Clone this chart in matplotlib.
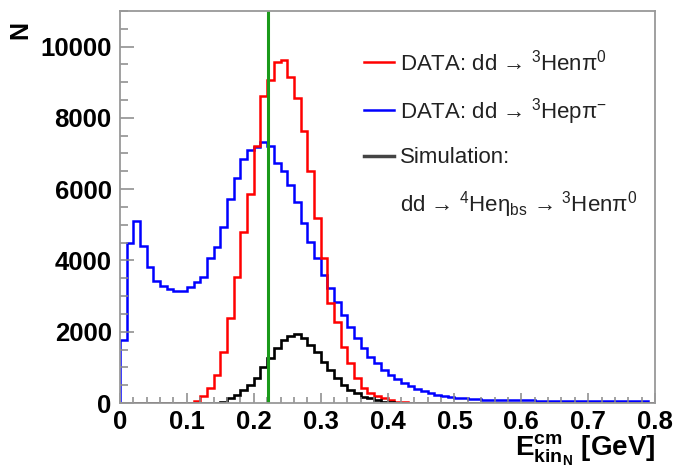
import numpy as np
import matplotlib
matplotlib.use("Agg")
import matplotlib.pyplot as plt
from matplotlib.lines import Line2D
from matplotlib.ticker import MultipleLocator

plt.rcParams["font.family"] = ["Liberation Sans", "DejaVu Sans"]
plt.rcParams["mathtext.fontset"] = "custom"
plt.rcParams["mathtext.rm"] = "Liberation Sans"
plt.rcParams["mathtext.it"] = "Liberation Sans:italic"
plt.rcParams["mathtext.bf"] = "Liberation Sans:bold"

# bins of 0.01 GeV from 0 to 0.8
bin_edges = np.round(np.arange(0, 0.81, 0.01), 2)

# DATA: dd -> 3He n pi0
red_counts = [0] * 10 + [
    10, 50, 210, 420, 800, 1440, 2390, 3550, 4810, 5870,
    7200, 8600, 9070, 9560, 9630, 9140, 8560, 7640, 6520, 5190,
    4065, 2810, 2285, 1580, 1120, 700, 420, 290, 190, 130,
    80, 40, 20, 10,
] + [0] * 36

# DATA: dd -> 3He p pi-
blue_counts = [
    1770, 4485, 5100, 4400, 3830, 3410, 3290, 3200, 3140, 3140,
    3260, 3390, 3540, 4060, 4390, 4950, 5730, 6310, 6845, 7110,
    7180, 7310, 7220, 6730, 6500, 6120, 5640, 5050, 4530, 4065,
    3595, 3220, 2845, 2470, 2145, 1815, 1535, 1300, 1115, 925,
    785, 665, 570, 480, 400, 330, 280, 230, 200, 170,
    150, 130, 120, 110, 95, 90, 85, 85, 80, 80,
    75, 75, 70, 70, 65, 65, 65, 60, 60, 60,
    55, 55, 55, 55, 55, 50, 50, 60, 45, 0,
]

# Simulation: dd -> 4He eta_bs -> 3He n pi0
black_counts = [0] * 14 + [
    15, 40, 130, 225, 365, 505, 695, 1000, 1255, 1535,
    1770, 1880, 1940, 1815, 1630, 1440, 1160, 925, 694, 505,
    365, 270, 180, 130, 80, 40, 20, 10,
] + [0] * 38

cut_value = 0.221

fig = plt.figure(figsize=(6.74, 4.72), dpi=100)
ax = fig.add_axes([0.178, 0.146, 0.794, 0.831])

ax.stairs(blue_counts, bin_edges, color="#0000ff", lw=1.8)
ax.stairs(red_counts, bin_edges, color="#ff0000", lw=1.8)
ax.stairs(black_counts, bin_edges, color="#000000", lw=1.9)
ax.axvline(cut_value, color="#1a9a1a", lw=2.2)

ax.set_xlim(0, 0.8)
ax.set_ylim(0, 11000)

ax.xaxis.set_major_locator(MultipleLocator(0.1))
ax.xaxis.set_minor_locator(MultipleLocator(0.02))
ax.yaxis.set_major_locator(MultipleLocator(2000))
ax.yaxis.set_minor_locator(MultipleLocator(500))
ax.xaxis.set_major_formatter(plt.FuncFormatter(lambda v, p: f"{v:g}"))

ax.tick_params(axis="both", which="both", direction="in", colors="#888888",
               labelcolor="black", labelsize=18.5)
ax.tick_params(axis="x", which="major", length=7, width=1.1, pad=5)
ax.tick_params(axis="x", which="minor", length=4, width=1.1)
ax.tick_params(axis="y", which="major", length=10, width=1.1, pad=6)
ax.tick_params(axis="y", which="minor", length=6, width=1.1)
for lab in ax.get_xticklabels() + ax.get_yticklabels():
    lab.set_fontweight("bold")

for sp in ax.spines.values():
    sp.set_color("#999999")
    sp.set_linewidth(1.3)

handles = [
    Line2D([], [], color="#ff0000", lw=1.8),
    Line2D([], [], color="#0000ff", lw=1.8),
    Line2D([], [], color="#444444", lw=2.5),
    Line2D([], [], color="none"),
]
labels = [
    "DATA: dd → $^{3}$Henπ$^{0}$",
    "DATA: dd → $^{3}$Hepπ$^{-}$",
    "Simulation:",
    r"dd → $^{4}$Heη$_{\mathrm{bs}}$ → $^{3}$Henπ$^{0}$",
]
leg = ax.legend(handles, labels, loc="upper left", bbox_to_anchor=(0.44, 0.925),
                frameon=False, fontsize=16, handlelength=1.35, handletextpad=0.25,
                labelspacing=0.93, borderaxespad=0)
for t in leg.get_texts():
    t.set_color("#222222")

fig.text(0.030, 0.936, "N", rotation=90, ha="center", va="center",
         fontsize=18, fontweight="bold")
fig.text(0.973, 0.036, r"E$^{\mathbf{cm}}_{\mathbf{kin_{N}}}$ [GeV]", ha="right",
         va="baseline", fontsize=20, fontweight="bold")

fig.savefig("out.png", dpi=100)
